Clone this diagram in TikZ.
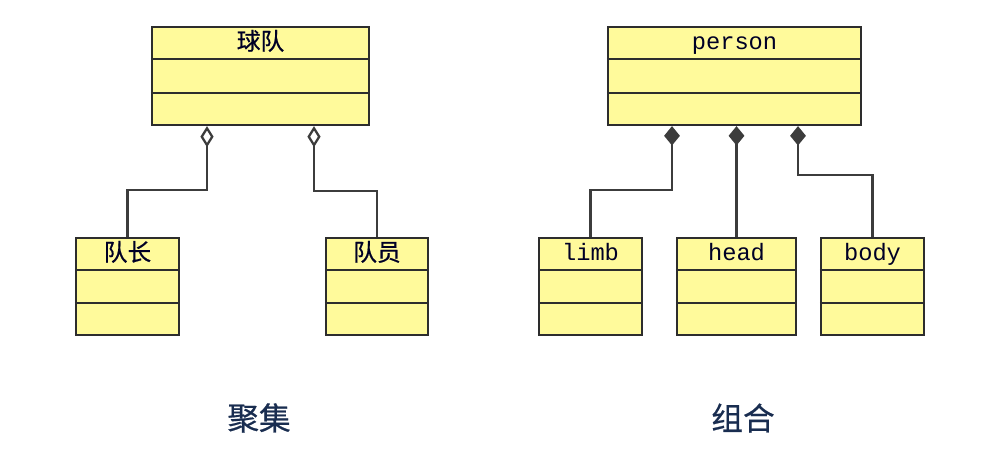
\documentclass[tikz,border=0pt]{standalone}
\usepackage{fontspec}
\setmonofont{Liberation Mono}
\newfontfamily\cjk[FakeBold=0.6]{Noto Sans CJK SC}
\usetikzlibrary{positioning, calc, arrows.meta}
\definecolor{classfill}{RGB}{255,250,155}
\definecolor{classedge}{RGB}{45,45,45}
\definecolor{linkgray}{RGB}{60,60,60}
\definecolor{captionblue}{RGB}{25,45,80}
\tikzset{
ClassBox/.style 2 args ={rectangle, draw=classedge, fill=classfill,
                         line width=1.3pt, inner sep=0pt,
                         minimum width=#1*0.02cm, minimum height=#2*0.02cm},
ClassLine/.style ={draw=classedge, line width=1.3pt},
ClassName/.style ={text=black!85!blue, font=\fontsize{13.5}{15}\selectfont,
                   inner sep=0pt, anchor=base},
LinkStyle/.style ={draw=linkgray, line width=1.3pt},
Aggr/.style ={LinkStyle, {Diamond[open, length=12pt, width=7.5pt, fill=white]}-},
Comp/.style ={LinkStyle, {Diamond[length=11pt, width=9pt]}-},
Caption/.style ={text=captionblue, font=\cjk\fontsize{18}{20}\selectfont},
}
\begin{document}
\begin{tikzpicture}[x=0.02cm, y=-0.02cm]
\useasboundingbox (0,0) rectangle (1006,472);

% 画类框
\node[ClassBox={217}{98}] (team)    at (260.5,76)   {};
\node[ClassBox={103}{97}] (captain) at (127.5,286.5) {};
\node[ClassBox={102}{97}] (member)  at (377,286.5)   {};
\node[ClassBox={253}{98}] (person)  at (734.5,76)   {};
\node[ClassBox={103}{97}] (limb)    at (590.5,286.5) {};
\node[ClassBox={119}{97}] (head)    at (736.5,286.5) {};
\node[ClassBox={103}{97}] (body)    at (872.5,286.5) {};

\foreach \n/\t in {team/\cjk 球队, captain/\cjk 队长, member/\cjk 队员,
                   person/\ttfamily person, limb/\ttfamily limb,
                   head/\ttfamily head, body/\ttfamily body} {
  \draw[ClassLine] ($(\n.north west)!1/3!(\n.south west)$) -- ($(\n.north east)!1/3!(\n.south east)$);
  \draw[ClassLine] ($(\n.north west)!2/3!(\n.south west)$) -- ($(\n.north east)!2/3!(\n.south east)$);
  \node[ClassName] (\n-name) at ($(\n.north)+(0,24)$) {\t};
}

% 聚集
\coordinate (ta) at ($(team.south)+(-53.5,0)$);
\coordinate (tb) at ($(team.south)+(53.5,0)$);
\draw[Aggr] (ta) -- ++(0,64) -| (captain.north);
\draw[Aggr] (tb) -- ++(0,65) -| (member.north);

% 组合
\coordinate (pa) at ($(person.south)+(-62.5,0)$);
\coordinate (pb) at (person.south -| head.north);
\coordinate (pc) at ($(person.south)+(63.5,0)$);
\draw[Comp] (pa) -- ++(0,64) -| (limb.north);
\draw[Comp] (pb) -- (head.north);
\draw[Comp] (pc) -- ++(0,49) -| (body.north);

\node[Caption] (agg)  at (259,418) {聚集};
\node[Caption] (comp) at (743,418) {组合};
\end{tikzpicture}
\end{document}
